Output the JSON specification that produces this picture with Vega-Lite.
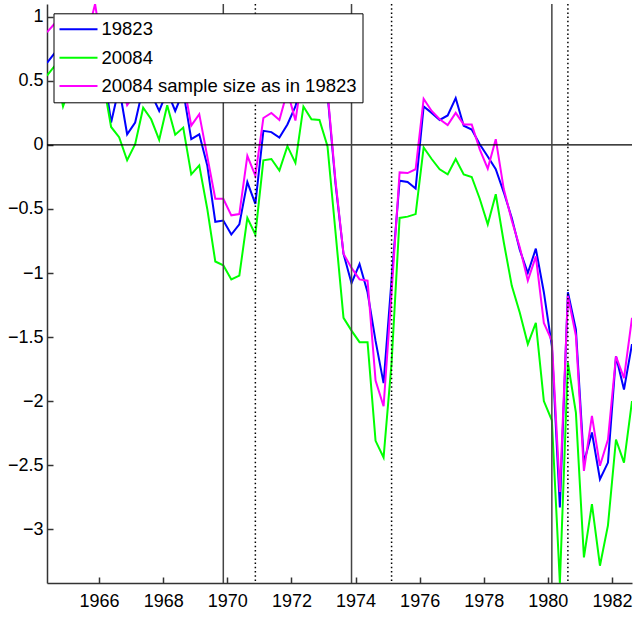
{
"$schema":"https://vega.github.io/schema/vega-lite/v6.json",
"width":585,"height":579,
"autosize":{"type":"none"},
"padding":{"left":47,"top":4,"right":1,"bottom":36},
"background":"white",
"config":{"view":{"stroke":null}},
"datasets":{
"series":[
{"t":1964.375,"s":"19823","v":0.64},{"t":1964.625,"s":"19823","v":0.72},{"t":1964.875,"s":"19823","v":0.60},{"t":1965.125,"s":"19823","v":0.70},{"t":1965.375,"s":"19823","v":0.78},{"t":1965.625,"s":"19823","v":0.68},{"t":1965.875,"s":"19823","v":0.88},{"t":1966.125,"s":"19823","v":0.62},{"t":1966.375,"s":"19823","v":0.175},{"t":1966.625,"s":"19823","v":0.45},
{"t":1966.875,"s":"19823","v":0.083},{"t":1967.125,"s":"19823","v":0.175},{"t":1967.375,"s":"19823","v":0.45},{"t":1967.625,"s":"19823","v":0.40},{"t":1967.875,"s":"19823","v":0.265},{"t":1968.125,"s":"19823","v":0.42},{"t":1968.375,"s":"19823","v":0.265},{"t":1968.625,"s":"19823","v":0.42},{"t":1968.875,"s":"19823","v":0.045},{"t":1969.125,"s":"19823","v":0.083},
{"t":1969.375,"s":"19823","v":-0.16},{"t":1969.625,"s":"19823","v":-0.60},{"t":1969.875,"s":"19823","v":-0.59},{"t":1970.125,"s":"19823","v":-0.70},{"t":1970.375,"s":"19823","v":-0.62},{"t":1970.625,"s":"19823","v":-0.29},{"t":1970.875,"s":"19823","v":-0.46},{"t":1971.125,"s":"19823","v":0.11},{"t":1971.375,"s":"19823","v":0.10},{"t":1971.625,"s":"19823","v":0.057},
{"t":1971.875,"s":"19823","v":0.16},{"t":1972.125,"s":"19823","v":0.30},{"t":1972.375,"s":"19823","v":0.55},{"t":1972.625,"s":"19823","v":0.50},{"t":1972.875,"s":"19823","v":0.55},{"t":1973.125,"s":"19823","v":0.40},{"t":1973.375,"s":"19823","v":-0.30},{"t":1973.625,"s":"19823","v":-0.85},{"t":1973.875,"s":"19823","v":-1.08},{"t":1974.125,"s":"19823","v":-0.93},
{"t":1974.375,"s":"19823","v":-1.15},{"t":1974.625,"s":"19823","v":-1.53},{"t":1974.875,"s":"19823","v":-1.86},{"t":1975.125,"s":"19823","v":-1.05},{"t":1975.375,"s":"19823","v":-0.28},{"t":1975.625,"s":"19823","v":-0.29},{"t":1975.875,"s":"19823","v":-0.34},{"t":1976.125,"s":"19823","v":0.30},{"t":1976.375,"s":"19823","v":0.25},{"t":1976.625,"s":"19823","v":0.195},
{"t":1976.875,"s":"19823","v":0.23},{"t":1977.125,"s":"19823","v":0.365},{"t":1977.375,"s":"19823","v":0.15},{"t":1977.625,"s":"19823","v":0.12},{"t":1977.875,"s":"19823","v":0.005},{"t":1978.125,"s":"19823","v":-0.09},{"t":1978.375,"s":"19823","v":-0.19},{"t":1978.625,"s":"19823","v":-0.37},{"t":1978.875,"s":"19823","v":-0.57},{"t":1979.125,"s":"19823","v":-0.82},
{"t":1979.375,"s":"19823","v":-1.00},{"t":1979.625,"s":"19823","v":-0.81},{"t":1979.875,"s":"19823","v":-1.15},{"t":1980.125,"s":"19823","v":-1.57},{"t":1980.375,"s":"19823","v":-2.83},{"t":1980.625,"s":"19823","v":-1.15},{"t":1980.875,"s":"19823","v":-1.44},{"t":1981.125,"s":"19823","v":-2.48},{"t":1981.375,"s":"19823","v":-2.245},{"t":1981.625,"s":"19823","v":-2.61},
{"t":1981.875,"s":"19823","v":-2.48},{"t":1982.125,"s":"19823","v":-1.65},{"t":1982.375,"s":"19823","v":-1.91},{"t":1982.625,"s":"19823","v":-1.555},
{"t":1964.375,"s":"20084","v":0.54},{"t":1964.625,"s":"20084","v":0.62},{"t":1964.875,"s":"20084","v":0.30},{"t":1965.125,"s":"20084","v":0.48},{"t":1965.375,"s":"20084","v":0.55},{"t":1965.625,"s":"20084","v":0.58},{"t":1965.875,"s":"20084","v":0.70},{"t":1966.125,"s":"20084","v":0.50},{"t":1966.375,"s":"20084","v":0.14},{"t":1966.625,"s":"20084","v":0.06},
{"t":1966.875,"s":"20084","v":-0.12},{"t":1967.125,"s":"20084","v":0.005},{"t":1967.375,"s":"20084","v":0.29},{"t":1967.625,"s":"20084","v":0.20},{"t":1967.875,"s":"20084","v":0.04},{"t":1968.125,"s":"20084","v":0.31},{"t":1968.375,"s":"20084","v":0.08},{"t":1968.625,"s":"20084","v":0.135},{"t":1968.875,"s":"20084","v":-0.23},{"t":1969.125,"s":"20084","v":-0.16},
{"t":1969.375,"s":"20084","v":-0.50},{"t":1969.625,"s":"20084","v":-0.91},{"t":1969.875,"s":"20084","v":-0.94},{"t":1970.125,"s":"20084","v":-1.05},{"t":1970.375,"s":"20084","v":-1.02},{"t":1970.625,"s":"20084","v":-0.57},{"t":1970.875,"s":"20084","v":-0.70},{"t":1971.125,"s":"20084","v":-0.12},{"t":1971.375,"s":"20084","v":-0.11},{"t":1971.625,"s":"20084","v":-0.20},
{"t":1971.875,"s":"20084","v":-0.01},{"t":1972.125,"s":"20084","v":-0.14},{"t":1972.375,"s":"20084","v":0.30},{"t":1972.625,"s":"20084","v":0.20},{"t":1972.875,"s":"20084","v":0.195},{"t":1973.125,"s":"20084","v":-0.01},{"t":1973.375,"s":"20084","v":-0.68},{"t":1973.625,"s":"20084","v":-1.35},{"t":1973.875,"s":"20084","v":-1.45},{"t":1974.125,"s":"20084","v":-1.54},
{"t":1974.375,"s":"20084","v":-1.54},{"t":1974.625,"s":"20084","v":-2.31},{"t":1974.875,"s":"20084","v":-2.44},{"t":1975.125,"s":"20084","v":-1.70},{"t":1975.375,"s":"20084","v":-0.57},{"t":1975.625,"s":"20084","v":-0.56},{"t":1975.875,"s":"20084","v":-0.54},{"t":1976.125,"s":"20084","v":-0.02},{"t":1976.375,"s":"20084","v":-0.11},{"t":1976.625,"s":"20084","v":-0.19},
{"t":1976.875,"s":"20084","v":-0.23},{"t":1977.125,"s":"20084","v":-0.11},{"t":1977.375,"s":"20084","v":-0.23},{"t":1977.625,"s":"20084","v":-0.25},{"t":1977.875,"s":"20084","v":-0.42},{"t":1978.125,"s":"20084","v":-0.62},{"t":1978.375,"s":"20084","v":-0.385},{"t":1978.625,"s":"20084","v":-0.76},{"t":1978.875,"s":"20084","v":-1.10},{"t":1979.125,"s":"20084","v":-1.31},
{"t":1979.375,"s":"20084","v":-1.555},{"t":1979.625,"s":"20084","v":-1.39},{"t":1979.875,"s":"20084","v":-2.00},{"t":1980.125,"s":"20084","v":-2.15},{"t":1980.375,"s":"20084","v":-3.42},{"t":1980.625,"s":"20084","v":-1.70},{"t":1980.875,"s":"20084","v":-2.09},{"t":1981.125,"s":"20084","v":-3.22},{"t":1981.375,"s":"20084","v":-2.805},{"t":1981.625,"s":"20084","v":-3.285},
{"t":1981.875,"s":"20084","v":-2.97},{"t":1982.125,"s":"20084","v":-2.30},{"t":1982.375,"s":"20084","v":-2.48},{"t":1982.625,"s":"20084","v":-2.00},
{"t":1964.375,"s":"20084 sample size as in 19823","v":0.88},{"t":1964.625,"s":"20084 sample size as in 19823","v":0.95},{"t":1964.875,"s":"20084 sample size as in 19823","v":0.80},{"t":1965.125,"s":"20084 sample size as in 19823","v":0.90},{"t":1965.375,"s":"20084 sample size as in 19823","v":0.95},{"t":1965.625,"s":"20084 sample size as in 19823","v":0.85},{"t":1965.875,"s":"20084 sample size as in 19823","v":1.10},{"t":1966.125,"s":"20084 sample size as in 19823","v":0.70},{"t":1966.375,"s":"20084 sample size as in 19823","v":0.40},{"t":1966.625,"s":"20084 sample size as in 19823","v":0.55},
{"t":1966.875,"s":"20084 sample size as in 19823","v":0.31},{"t":1967.125,"s":"20084 sample size as in 19823","v":0.40},{"t":1967.375,"s":"20084 sample size as in 19823","v":0.60},{"t":1967.625,"s":"20084 sample size as in 19823","v":0.45},{"t":1967.875,"s":"20084 sample size as in 19823","v":0.40},{"t":1968.125,"s":"20084 sample size as in 19823","v":0.55},{"t":1968.375,"s":"20084 sample size as in 19823","v":0.38},{"t":1968.625,"s":"20084 sample size as in 19823","v":0.50},{"t":1968.875,"s":"20084 sample size as in 19823","v":0.15},{"t":1969.125,"s":"20084 sample size as in 19823","v":0.24},
{"t":1969.375,"s":"20084 sample size as in 19823","v":-0.09},{"t":1969.625,"s":"20084 sample size as in 19823","v":-0.42},{"t":1969.875,"s":"20084 sample size as in 19823","v":-0.42},{"t":1970.125,"s":"20084 sample size as in 19823","v":-0.55},{"t":1970.375,"s":"20084 sample size as in 19823","v":-0.54},{"t":1970.625,"s":"20084 sample size as in 19823","v":-0.086},{"t":1970.875,"s":"20084 sample size as in 19823","v":-0.24},{"t":1971.125,"s":"20084 sample size as in 19823","v":0.21},{"t":1971.375,"s":"20084 sample size as in 19823","v":0.25},{"t":1971.625,"s":"20084 sample size as in 19823","v":0.195},
{"t":1971.875,"s":"20084 sample size as in 19823","v":0.42},{"t":1972.125,"s":"20084 sample size as in 19823","v":0.19},{"t":1972.375,"s":"20084 sample size as in 19823","v":0.60},{"t":1972.625,"s":"20084 sample size as in 19823","v":0.55},{"t":1972.875,"s":"20084 sample size as in 19823","v":0.58},{"t":1973.125,"s":"20084 sample size as in 19823","v":0.42},{"t":1973.375,"s":"20084 sample size as in 19823","v":-0.28},{"t":1973.625,"s":"20084 sample size as in 19823","v":-0.85},{"t":1973.875,"s":"20084 sample size as in 19823","v":-0.96},{"t":1974.125,"s":"20084 sample size as in 19823","v":-1.05},
{"t":1974.375,"s":"20084 sample size as in 19823","v":-1.06},{"t":1974.625,"s":"20084 sample size as in 19823","v":-1.84},{"t":1974.875,"s":"20084 sample size as in 19823","v":-2.04},{"t":1975.125,"s":"20084 sample size as in 19823","v":-1.15},{"t":1975.375,"s":"20084 sample size as in 19823","v":-0.215},{"t":1975.625,"s":"20084 sample size as in 19823","v":-0.22},{"t":1975.875,"s":"20084 sample size as in 19823","v":-0.19},{"t":1976.125,"s":"20084 sample size as in 19823","v":0.36},{"t":1976.375,"s":"20084 sample size as in 19823","v":0.265},{"t":1976.625,"s":"20084 sample size as in 19823","v":0.20},
{"t":1976.875,"s":"20084 sample size as in 19823","v":0.155},{"t":1977.125,"s":"20084 sample size as in 19823","v":0.25},{"t":1977.375,"s":"20084 sample size as in 19823","v":0.16},{"t":1977.625,"s":"20084 sample size as in 19823","v":0.16},{"t":1977.875,"s":"20084 sample size as in 19823","v":-0.035},{"t":1978.125,"s":"20084 sample size as in 19823","v":-0.185},{"t":1978.375,"s":"20084 sample size as in 19823","v":0.045},{"t":1978.625,"s":"20084 sample size as in 19823","v":-0.345},{"t":1978.875,"s":"20084 sample size as in 19823","v":-0.59},{"t":1979.125,"s":"20084 sample size as in 19823","v":-0.80},
{"t":1979.375,"s":"20084 sample size as in 19823","v":-1.06},{"t":1979.625,"s":"20084 sample size as in 19823","v":-0.87},{"t":1979.875,"s":"20084 sample size as in 19823","v":-1.39},{"t":1980.125,"s":"20084 sample size as in 19823","v":-1.53},{"t":1980.375,"s":"20084 sample size as in 19823","v":-2.71},{"t":1980.625,"s":"20084 sample size as in 19823","v":-1.18},{"t":1980.875,"s":"20084 sample size as in 19823","v":-1.49},{"t":1981.125,"s":"20084 sample size as in 19823","v":-2.545},{"t":1981.375,"s":"20084 sample size as in 19823","v":-2.115},{"t":1981.625,"s":"20084 sample size as in 19823","v":-2.505},
{"t":1981.875,"s":"20084 sample size as in 19823","v":-2.30},{"t":1982.125,"s":"20084 sample size as in 19823","v":-1.65},{"t":1982.375,"s":"20084 sample size as in 19823","v":-1.82},{"t":1982.625,"s":"20084 sample size as in 19823","v":-1.35}
],
"solid":[{"t":1969.875},{"t":1973.875},{"t":1980.125}],
"dotted":[{"t":1970.875},{"t":1975.125},{"t":1980.625}],
"zero":[{"v":0}]
},
"layer":[
{"data":{"name":"series"},
 "mark":{"type":"line","strokeWidth":2,"clip":true},
 "encoding":{
  "x":{"field":"t","type":"quantitative","title":null,
   "scale":{"domain":[1964.375,1982.625],"nice":false,"zero":false},
   "axis":{"title":null,"values":[1966,1968,1970,1972,1974,1976,1978,1980,1982],"format":"d","grid":false,
    "tickSize":-6,"labelPadding":15,"domainColor":"#333","domainWidth":1.5,"tickColor":"#333","tickWidth":1.5,
    "labelFont":"Liberation Sans","labelFontSize":18,"labelColor":"black","labelFlush":false,"labelOverlap":false}},
  "y":{"field":"v","type":"quantitative","title":null,
   "scale":{"domain":[-3.42,1.1],"nice":false,"zero":false},
   "axis":{"title":null,"values":[-3,-2.5,-2,-1.5,-1,-0.5,0,0.5,1],"format":"~g","grid":false,
    "tickSize":-6,"labelPadding":10,"domainColor":"#333","domainWidth":1.5,"tickColor":"#333","tickWidth":1.5,
    "labelFont":"Liberation Sans","labelFontSize":18,"labelColor":"black","labelFlush":false,"labelOverlap":false}},
  "color":{"field":"s","type":"nominal",
   "scale":{"domain":["19823","20084","20084 sample size as in 19823"],"range":["#0000ff","#00ff00","#ff00ff"]},
   "legend":{"title":null,"orient":"none","legendX":6.5,"legendY":9.3,"symbolType":"stroke","symbolSize":1444,"symbolStrokeWidth":2,
    "clipHeight":22,"rowPadding":6.4,"padding":5,"labelOffset":3,"labelFont":"Liberation Sans","labelFontSize":18.5,
    "labelLimit":400,"labelColor":"black","fillColor":"white","strokeColor":"black"}}
 }},
{"data":{"name":"zero"},"mark":{"type":"rule","color":"black","strokeWidth":1.2},
 "encoding":{"y":{"field":"v","type":"quantitative","title":null}}},
{"data":{"name":"solid"},"mark":{"type":"rule","color":"#444","strokeWidth":1.5},
 "encoding":{"x":{"field":"t","type":"quantitative","title":null}}},
{"data":{"name":"dotted"},"mark":{"type":"rule","color":"black","strokeWidth":1.5,"strokeDash":[1.5,2.7]},
 "encoding":{"x":{"field":"t","type":"quantitative","title":null}}}
]
}
